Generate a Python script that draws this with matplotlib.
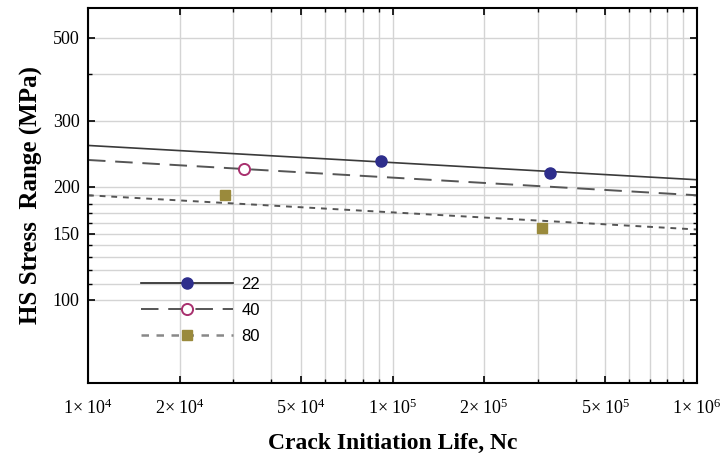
import math
import matplotlib
matplotlib.use("Agg")
import matplotlib.pyplot as plt
from matplotlib.lines import Line2D
from matplotlib.ticker import FixedLocator, FuncFormatter, NullFormatter

plt.rcParams['font.family'] = 'Liberation Serif'
plt.rcParams['mathtext.fontset'] = 'custom'
plt.rcParams['mathtext.rm'] = 'Liberation Serif'
plt.rcParams['mathtext.it'] = 'Liberation Serif:italic'

# test points (cycles, MPa)
n_22 = [9.2e4, 3.3e5]
s_22 = [234, 218]
n_40 = [3.25e4]
s_40 = [223]
n_80 = [2.82e4, 3.1e5]
s_80 = [190, 155]

# fitted S-N curves, values at the ends of the plotted range
fit_n = [1e4, 1e6]
fit_22 = [258, 209]
fit_40 = [236, 190]
fit_80 = [190, 154]

labels = ['22', '40', '80']
x_major = [1e4, 2e4, 5e4, 1e5, 2e5, 5e5, 1e6]
x_minor = [m * 10 ** e for e in (4, 5) for m in (3, 4, 6, 7, 8, 9)]
y_major = [100, 150, 200, 300, 500]
y_minor = [110, 120, 130, 140, 160, 170, 180, 190, 400]

fig = plt.figure(figsize=(7.24, 4.58), dpi=100)
ax = fig.add_axes([88 / 724, 1 - 383 / 458, 609 / 724, 375 / 458])
ax.set_xscale('log')
ax.set_yscale('log')
ax.set_xlim(1e4, 1e6)
ax.set_ylim(60, 600)

ax.xaxis.set_major_locator(FixedLocator(x_major))
ax.xaxis.set_minor_locator(FixedLocator(x_minor))
ax.yaxis.set_major_locator(FixedLocator(y_major))
ax.yaxis.set_minor_locator(FixedLocator(y_minor))


def sci(v, pos):
    e = int(math.floor(math.log10(v) + 1e-9))
    m = int(round(v / 10 ** e))
    return '%d\u00d7 10$^{%d}$' % (m, e)


ax.xaxis.set_major_formatter(FuncFormatter(sci))
ax.xaxis.set_minor_formatter(NullFormatter())
ax.yaxis.set_major_formatter(FuncFormatter(lambda v, p: '%d' % v))
ax.yaxis.set_minor_formatter(NullFormatter())

ax.grid(True, which='both', color='#d4d4d4', linewidth=1.0)
ax.set_axisbelow(True)
ax.tick_params(which='both', direction='in', top=True, right=True, labelsize=13)
ax.tick_params(axis='x', pad=11)
ax.tick_params(axis='y', pad=6)
ax.tick_params(which='major', length=5, width=1.2)
ax.tick_params(which='minor', length=3, width=1.0)
for sp in ax.spines.values():
    sp.set_linewidth(1.5)

ax.plot(fit_n, fit_22, color='#3a3a3a', lw=1.2, ls='-')
ax.plot(fit_n, fit_40, color='#555555', lw=1.4, ls=(0, (9, 5)))
ax.plot(fit_n, fit_80, color='#555555', lw=1.4, ls=(0, (3, 3)))

ax.plot(n_22, s_22, 'o', ms=8, color='#2e2e8c', mec='#2e2e8c')
ax.plot(n_40, s_40, 'o', ms=8, mfc='white', mec='#a8306e', mew=1.4)
ax.plot(n_80, s_80, 's', ms=7.5, color='#9a8a3c', mec='#9a8a3c')

handles = [
    Line2D([], [], color='#222222', lw=1.2, marker='o', ms=8, mfc='#2e2e8c', mec='#2e2e8c'),
    Line2D([], [], color='#555555', lw=1.4, ls=(0, (9, 5)), marker='o', ms=8,
           mfc='white', mec='#a8306e', mew=1.4),
    Line2D([], [], color='#888888', lw=1.8, ls=(0, (3, 3)), marker='s', ms=7.5,
           mfc='#9a8a3c', mec='#9a8a3c'),
]
ax.legend(handles, labels, loc='upper left', bbox_to_anchor=(0.063, 0.322), frameon=False,
          handlelength=5.5, handletextpad=0.5, labelspacing=0.65,
          prop={'family': 'Liberation Sans', 'size': 12})

ax.set_xlabel('Crack Initiation Life, Nc', fontsize=17, fontweight='bold', labelpad=11)
ax.set_ylabel('HS Stress  Range (MPa)', fontsize=18, fontweight='bold', labelpad=7)

fig.savefig('out.png', dpi=100)
